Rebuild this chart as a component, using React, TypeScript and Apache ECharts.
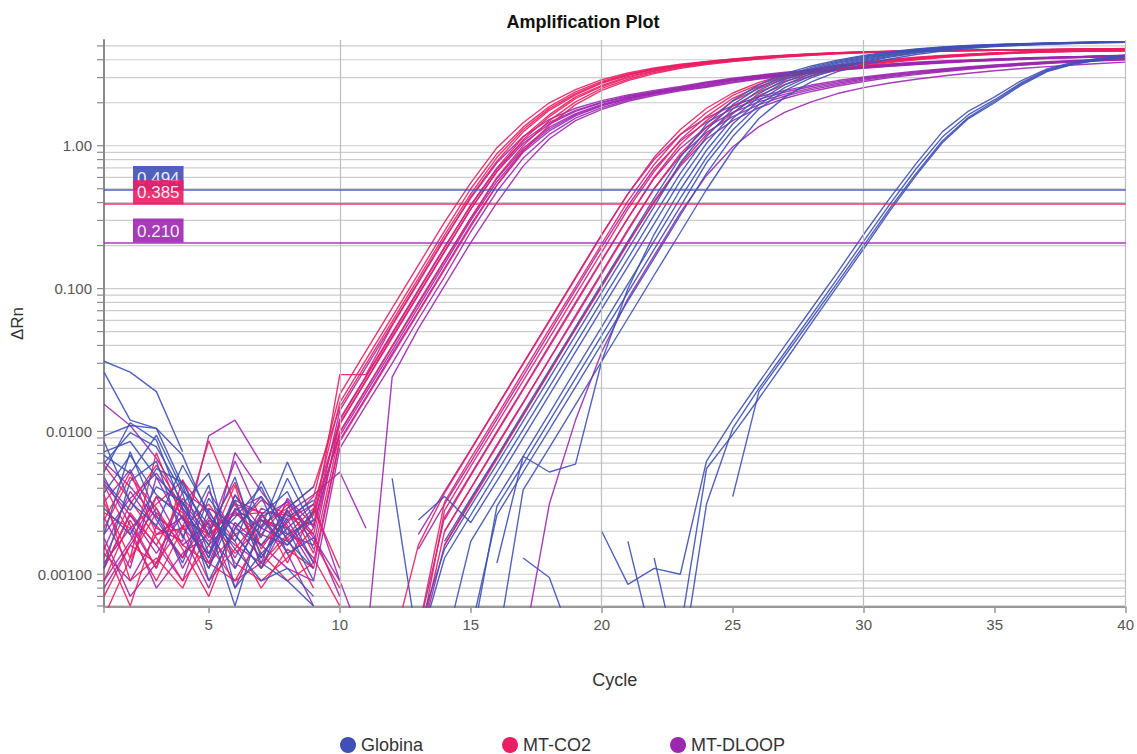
import React, { useEffect, useRef } from 'react';
import * as echarts from 'echarts';

const N = null;
const FONT = "'Liberation Sans', Arial, sans-serif";

const CYCLES = [1, 2, 3, 4, 5, 6, 7, 8, 9, 10, 11, 12, 13, 14, 15, 16, 17, 18, 19, 20,
  21, 22, 23, 24, 25, 26, 27, 28, 29, 30, 31, 32, 33, 34, 35, 36, 37, 38, 39, 40];

const X_GRID = [10, 20, 30, 40];
const Y_GRID = [0.0006, 0.0007, 0.0008, 0.0009,
  0.001, 0.002, 0.003, 0.004, 0.005, 0.006, 0.007, 0.008, 0.009,
  0.01, 0.02, 0.03, 0.04, 0.05, 0.06, 0.07, 0.08, 0.09,
  0.1, 0.2, 0.3, 0.4, 0.5, 0.6, 0.7, 0.8, 0.9,
  1, 2, 3, 4, 5];

const THRESHOLDS = [
  { name: 'Globina', value: 0.494, label: '0.494' },
  { name: 'MT-CO2', value: 0.385, label: '0.385' },
  { name: 'MT-DLOOP', value: 0.21, label: '0.210' },
];

const COLORS: Record<string, string> = {
  'Globina': '#3f51b5',
  'MT-CO2': '#e91e63',
  'MT-DLOOP': '#9c27b0',
};

// ---- MT-CO2 ----
const RE1 = [0.0032, 0.0013, 0.0071, 0.0024, 0.0019, 0.0028, 0.0016, 0.0023, 0.0035, 0.0182,
  0.0365, 0.073, 0.146, 0.292, 0.55, 0.97, 1.45, 2.0, 2.47, 2.9,
  3.23, 3.5, 3.72, 3.9, 4.06, 4.2, 4.31, 4.41, 4.49, 4.55,
  4.59, 4.62, 4.65, 4.67, 4.69, 4.71, 4.73, 4.75, 4.77, 4.79];
const RE2 = [0.0009, 0.0024, 0.0011, 0.0046, 0.0018, 0.0031, 0.0027, 0.0012, 0.0028, 0.0159,
  0.0318, 0.0635, 0.127, 0.254, 0.5, 0.88, 1.35, 1.88, 2.38, 2.82,
  3.17, 3.45, 3.68, 3.87, 4.03, 4.17, 4.29, 4.39, 4.48, 4.54,
  4.58, 4.61, 4.64, 4.66, 4.68, 4.7, 4.72, 4.74, 4.76, 4.78];
const RE3 = [0.0016, 0.0006, 0.0022, 0.0013, 0.0025, 0.0014, 0.0022, 0.0029, 0.0041, 0.0148,
  0.0296, 0.059, 0.118, 0.237, 0.46, 0.83, 1.3, 1.82, 2.32, 2.78,
  3.14, 3.43, 3.66, 3.86, 4.02, 4.16, 4.28, 4.38, 4.47, 4.53,
  4.57, 4.6, 4.63, 4.65, 4.67, 4.69, 4.71, 4.73, 4.75, 4.77];
const RE4 = [0.0011, 0.0027, 0.0016, 0.0034, 0.0021, 0.0026, 0.0027, 0.0026, 0.0022, 0.025,
  0.025, 0.055, 0.11, 0.221, 0.44, 0.78, 1.25, 1.77, 2.27, 2.74,
  3.11, 3.41, 3.64, 3.84, 4.0, 4.15, 4.27, 4.37, 4.46, 4.52,
  4.56, 4.6, 4.63, 4.65, 4.67, 4.69, 4.71, 4.73, 4.75, 4.77];
const RE5 = [0.0058, 0.0033, 0.0018, 0.0009, 0.0016, 0.0042, 0.0011, 0.0018, 0.0026, 0.012,
  0.024, 0.048, 0.096, 0.193, 0.385, 0.7, 1.15, 1.65, 2.2, 2.65,
  3.05, 3.35, 3.6, 3.8, 3.97, 4.12, 4.25, 4.35, 4.45, 4.52,
  4.57, 4.6, 4.62, 4.64, 4.66, 4.68, 4.7, 4.72, 4.74, 4.76];
const RE6 = [0.0021, 0.0048, 0.0029, 0.0015, 0.0007, 0.0021, 0.0033, 0.0026, 0.0019, 0.0112,
  0.0225, 0.045, 0.09, 0.18, 0.36, 0.66, 1.1, 1.6, 2.14, 2.6,
  3.0, 3.32, 3.58, 3.78, 3.95, 4.1, 4.23, 4.34, 4.44, 4.51,
  4.56, 4.59, 4.62, 4.64, 4.66, 4.68, 4.7, 4.72, 4.74, 4.76];
const RE7 = [N, 0.0012, 0.0035, 0.0027, 0.0012, 0.0009, 0.0019, 0.0031, 0.0014, 0.0098,
  0.0195, 0.039, 0.078, 0.156, 0.313, 0.6, 1.0, 1.5, 2.03, 2.52,
  2.92, 3.26, 3.53, 3.74, 3.92, 4.07, 4.21, 4.32, 4.42, 4.5,
  4.55, 4.59, 4.62, 4.64, 4.66, 4.68, 4.7, 4.72, 4.74, 4.76];
const RE8 = [0.0042, 0.0019, 0.0009, 0.0021, 0.0031, 0.0017, 0.0008, 0.0015, 0.0011, 0.0085,
  0.017, 0.034, 0.068, 0.136, 0.272, 0.53, 0.92, 1.4, 1.94, 2.44,
  2.86, 3.2, 3.48, 3.7, 3.88, 4.04, 4.18, 4.3, 4.4, 4.48,
  4.54, 4.58, 4.61, 4.63, 4.65, 4.67, 4.69, 4.71, 4.73, 4.75];
const RL1 = [0.0024, 0.0052, 0.0019, 0.0021, 0.0086, 0.0031, 0.0014, 0.0009, 0.0012, N,
  N, 0.0003, 0.0016, 0.0037, 0.0074, 0.0148, 0.0296, 0.059, 0.118, 0.237,
  0.46, 0.83, 1.3, 1.83, 2.34, 2.78, 3.14, 3.43, 3.66, 3.85,
  4.02, 4.16, 4.28, 4.38, 4.47, 4.53, 4.58, 4.61, 4.64, 4.66];
const RL2 = [0.0005, 0.0013, 0.0027, 0.0016, 0.0012, 0.0019, 0.0024, 0.0021, 0.0013, 0.0006,
  N, N, 0.0004, 0.0032, 0.0065, 0.0129, 0.026, 0.052, 0.103, 0.206,
  0.41, 0.74, 1.2, 1.71, 2.25, 2.69, 3.08, 3.38, 3.62, 3.82,
  3.99, 4.14, 4.26, 4.37, 4.46, 4.52, 4.57, 4.6, 4.63, 4.65];
const RL3 = [0.0036, 0.0009, 0.0013, 0.0008, 0.0021, 0.0044, 0.0015, 0.0028, 0.0017, 0.0008,
  N, N, 0.0003, 0.0028, 0.0057, 0.0113, 0.0226, 0.045, 0.09, 0.18,
  0.36, 0.66, 1.1, 1.6, 2.15, 2.6, 3.01, 3.32, 3.58, 3.78,
  3.95, 4.1, 4.23, 4.34, 4.44, 4.51, 4.56, 4.59, 4.62, 4.64];
const RL4 = [0.0013, 0.0031, 0.0058, 0.0029, 0.0016, 0.0009, 0.0012, 0.0019, 0.0029, 0.0011,
  N, N, N, 0.0024, 0.0049, 0.0098, 0.0195, 0.039, 0.078, 0.156,
  0.313, 0.6, 1.02, 1.5, 2.05, 2.52, 2.94, 3.26, 3.53, 3.74,
  3.92, 4.07, 4.21, 4.32, 4.42, 4.5, 4.55, 4.59, 4.62, 4.64];
const RL5 = [0.0007, 0.0016, 0.0012, 0.0022, 0.0009, 0.0015, 0.0026, 0.0018, 0.0008, N,
  N, N, 0.0003, 0.002, 0.004, 0.0079, 0.0158, 0.032, 0.063, 0.127,
  0.254, 0.5, 0.88, 1.35, 1.89, 2.38, 2.83, 3.17, 3.45, 3.68,
  3.87, 4.03, 4.17, 4.29, 4.39, 4.48, 4.54, 4.58, 4.61, 4.63];
const RL6 = [0.0027, 0.0021, 0.0031, 0.0045, 0.0026, 0.0012, 0.0009, 0.0013, 0.0021, N,
  N, N, N, 0.0016, 0.0032, 0.0064, 0.0129, 0.026, 0.052, 0.103,
  0.206, 0.41, 0.74, 1.2, 1.71, 2.25, 2.69, 3.08, 3.38, 3.62,
  3.82, 3.99, 4.14, 4.26, 4.37, 4.46, 4.52, 4.57, 4.6, 4.62];

// ---- MT-DLOOP ----
const PE1 = [0.0015, 0.0038, 0.0021, 0.0017, 0.0093, 0.012, 0.006, N, 0.0021, 0.014,
  0.028, 0.056, 0.112, 0.225, 0.43, 0.76, 1.16, 1.53, 1.83, 2.07,
  2.27, 2.44, 2.6, 2.8, 2.97, 3.12, 3.27, 3.4, 3.52, 3.64,
  3.74, 3.84, 3.92, 3.98, 4.05, 4.11, 4.16, 4.21, 4.26, 4.31];
const PE2 = [0.0155, 0.011, 0.0065, 0.0032, 0.0019, 0.0062, 0.0024, 0.0019, 0.0016, 0.0122,
  0.0244, 0.049, 0.098, 0.196, 0.38, 0.69, 1.08, 1.46, 1.77, 2.02,
  2.23, 2.4, 2.56, 2.76, 2.94, 3.09, 3.23, 3.37, 3.49, 3.6,
  3.71, 3.81, 3.89, 3.96, 4.03, 4.09, 4.14, 4.19, 4.24, 4.29];
const PE3 = [0.0025, 0.0011, 0.0048, 0.0021, 0.0014, 0.0028, 0.0035, 0.0021, 0.0031, 0.0114,
  0.0228, 0.046, 0.091, 0.183, 0.36, 0.66, 1.04, 1.42, 1.74, 2.0,
  2.21, 2.38, 2.54, 2.74, 2.92, 3.07, 3.21, 3.35, 3.47, 3.59,
  3.7, 3.8, 3.88, 3.95, 4.02, 4.08, 4.13, 4.19, 4.24, 4.29];
const PE4 = [0.0008, 0.0016, 0.0029, 0.0011, 0.0024, 0.0016, 0.0012, 0.0034, 0.0022, 0.00995,
  0.0199, 0.0398, 0.08, 0.159, 0.31, 0.59, 0.96, 1.35, 1.68, 1.95,
  2.17, 2.35, 2.51, 2.71, 2.89, 3.04, 3.19, 3.33, 3.45, 3.57,
  3.68, 3.78, 3.87, 3.94, 4.01, 4.08, 4.13, 4.18, 4.23, 4.28];
const PE5 = [0.0043, 0.0026, 0.0014, 0.0026, 0.0011, 0.0036, 0.0021, 0.0017, 0.0027, 0.0093,
  0.0186, 0.037, 0.074, 0.149, 0.3, 0.56, 0.93, 1.31, 1.65, 1.92,
  2.15, 2.33, 2.49, 2.67, 2.87, 3.02, 3.17, 3.31, 3.44, 3.56,
  3.67, 3.77, 3.86, 3.93, 4.0, 4.07, 4.12, 4.17, 4.22, 4.27];
const PE6 = [0.0018, 0.0007, 0.0012, 0.0038, 0.0028, 0.0013, 0.0029, 0.0024, 0.0012, 0.0087,
  0.0174, 0.035, 0.069, 0.139, 0.28, 0.53, 0.9, 1.27, 1.62, 1.9,
  2.13, 2.32, 2.48, 2.64, 2.85, 3.0, 3.15, 3.29, 3.42, 3.54,
  3.65, 3.75, 3.84, 3.92, 3.99, 4.06, 4.11, 4.16, 4.21, 4.26];
const PE7 = [0.0061, 0.0041, 0.0025, 0.0019, 0.0008, 0.0023, 0.0016, 0.0011, 0.0009, 0.0076,
  0.0152, 0.03, 0.061, 0.121, 0.25, 0.48, 0.82, 1.2, 1.56, 1.85,
  2.09, 2.29, 2.45, 2.6, 2.8, 2.96, 3.11, 3.25, 3.39, 3.51,
  3.62, 3.72, 3.82, 3.9, 3.97, 4.04, 4.1, 4.15, 4.2, 4.25];
const PE8 = [0.0012, 0.0021, 0.0008, 0.0014, 0.0019, 0.0011, 0.0025, 0.0032, 0.0018, 0.0009,
  0.0003, 0.024, 0.0525, 0.105, 0.21, 0.4, 0.72, 1.12, 1.5, 1.8,
  2.05, 2.25, 2.42, 2.57, 2.76, 2.93, 3.08, 3.23, 3.37, 3.49,
  3.6, 3.7, 3.8, 3.88, 3.95, 4.02, 4.08, 4.13, 4.18, 4.23];
const PL1 = [0.0019, 0.0034, 0.0051, 0.0028, 0.0013, 0.0071, 0.0038, 0.0022, 0.0011, N,
  N, N, 0.0019, 0.0038, 0.0075, 0.015, 0.03, 0.06, 0.12, 0.24,
  0.46, 0.8, 1.2, 1.57, 1.91, 2.2, 2.44, 2.66, 2.86, 3.03,
  3.18, 3.33, 3.45, 3.57, 3.68, 3.78, 3.87, 3.95, 4.01, 4.08];
const PL2 = [0.0011, 0.0026, 0.0016, 0.0009, 0.0029, 0.0022, 0.0013, 0.0027, 0.0036, 0.0052,
  0.0021, N, 0.0015, 0.0031, 0.0061, 0.0122, 0.0244, 0.049, 0.098, 0.196,
  0.38, 0.69, 1.08, 1.46, 1.82, 2.12, 2.38, 2.6, 2.8, 2.98,
  3.14, 3.28, 3.42, 3.54, 3.65, 3.75, 3.84, 3.92, 3.99, 4.06];
const PL3 = [0.0048, 0.0022, 0.0011, 0.0031, 0.0017, 0.0027, 0.0019, 0.0016, 0.0024, N,
  N, N, 0.0004, 0.0025, 0.005, 0.01, 0.0199, 0.04, 0.08, 0.159,
  0.31, 0.59, 0.96, 1.35, 1.71, 2.03, 2.3, 2.53, 2.74, 2.93,
  3.09, 3.24, 3.38, 3.5, 3.62, 3.72, 3.81, 3.9, 3.97, 4.04];
const PL4 = [0.0009, 0.0017, 0.0035, 0.0016, 0.0023, 0.0008, 0.0021, 0.0033, 0.0019, 0.0007,
  N, N, N, 0.002, 0.004, 0.0081, 0.016, 0.032, 0.065, 0.13,
  0.26, 0.5, 0.85, 1.24, 1.6, 1.94, 2.23, 2.47, 2.68, 2.88,
  3.05, 3.2, 3.34, 3.47, 3.59, 3.69, 3.79, 3.88, 3.95, 4.02];
const PL5 = [0.0032, 0.0054, 0.0024, 0.0013, 0.0038, 0.0019, 0.0011, 0.0024, 0.0031, 0.0009,
  N, N, 0.0003, 0.0016, 0.0033, 0.0066, 0.013, 0.026, 0.0525, 0.105,
  0.21, 0.4, 0.72, 1.12, 1.5, 1.85, 2.15, 2.4, 2.62, 2.82,
  3.0, 3.15, 3.3, 3.43, 3.55, 3.66, 3.76, 3.85, 3.93, 4.0];
const PL6 = [0.0014, 0.0009, 0.0019, 0.0025, 0.0012, 0.0033, 0.0027, 0.0014, 0.0006, N,
  N, N, N, N, N, N, 0.0003, 0.0031, 0.012, 0.036,
  0.085, 0.17, 0.34, 0.62, 0.98, 1.36, 1.72, 2.03, 2.32, 2.55,
  2.75, 2.92, 3.08, 3.22, 3.35, 3.47, 3.58, 3.68, 3.77, 3.85];

// ---- Globina ----
const BM1 = [0.031, 0.026, 0.019, 0.0072, N, 0.0021, 0.0016, 0.0028, 0.0012, N,
  N, N, N, 0.0017, 0.0034, 0.0067, 0.0135, 0.027, 0.054, 0.108,
  0.215, 0.43, 0.83, 1.42, 2.07, 2.68, 3.2, 3.62, 3.98, 4.29,
  4.56, 4.76, 4.92, 5.03, 5.11, 5.19, 5.24, 5.29, 5.32, 5.35];
const BM2 = [0.026, 0.012, 0.0105, 0.0042, 0.0014, 0.0033, 0.0012, 0.0009, 0.0006, N,
  N, N, 0.0004, 0.0015, 0.003, 0.0059, 0.0118, 0.0235, 0.047, 0.094,
  0.188, 0.375, 0.76, 1.29, 1.94, 2.56, 3.1, 3.54, 3.91, 4.23,
  4.5, 4.72, 4.89, 5.01, 5.1, 5.17, 5.23, 5.28, 5.31, 5.34];
const BM3 = [0.0093, 0.011, 0.0105, 0.0068, 0.0025, 0.0017, 0.0045, 0.0019, 0.0024, N,
  N, 0.0047, 0.0003, 0.0013, 0.0026, 0.0052, 0.0103, 0.0205, 0.041, 0.082,
  0.163, 0.327, 0.64, 1.16, 1.81, 2.44, 3.0, 3.46, 3.84, 4.17,
  4.45, 4.68, 4.86, 4.99, 5.08, 5.16, 5.22, 5.27, 5.3, 5.33];
const BM4 = [0.0072, 0.0085, 0.0048, 0.0031, 0.0051, 0.0011, 0.0026, 0.0038, 0.0015, N,
  N, N, 0.0024, 0.0035, 0.0023, 0.0045, 0.009, 0.018, 0.036, 0.072,
  0.143, 0.284, 0.57, 1.04, 1.68, 2.32, 2.9, 3.38, 3.77, 4.11,
  4.4, 4.64, 4.83, 4.97, 5.07, 5.15, 5.21, 5.26, 5.3, 5.33];
const BM5 = [0.0037, 0.0068, 0.0036, 0.0025, 0.0011, 0.0029, 0.0021, 0.0061, 0.0024, N,
  N, N, N, N, N, 0.0012, 0.0067, 0.0052, 0.0059, 0.031,
  0.1, 0.24, 0.494, 0.93, 1.55, 2.2, 2.8, 3.3, 3.7, 4.05,
  4.35, 4.6, 4.8, 4.95, 5.05, 5.13, 5.2, 5.25, 5.3, 5.33];
const BM6 = [0.0011, 0.0045, 0.0062, 0.0018, 0.0042, 0.0008, 0.0014, 0.0021, 0.0009, N,
  N, N, N, 0.0003, 0.0017, 0.0034, 0.0067, 0.0134, 0.027, 0.054,
  0.108, 0.215, 0.43, 0.83, 1.42, 2.07, 2.68, 3.2, 3.62, 3.98,
  4.29, 4.56, 4.76, 4.92, 5.03, 5.11, 5.19, 5.24, 5.29, 5.32];
const BM7 = [0.006, 0.0098, 0.0078, 0.0037, 0.0009, 0.0021, 0.0035, 0.0014, 0.0018, N,
  N, N, N, N, 0.0003, 0.003, 0.0059, 0.0118, 0.0235, 0.047,
  0.094, 0.188, 0.375, 0.76, 1.29, 1.94, 2.56, 3.1, 3.54, 3.91,
  4.23, 4.5, 4.72, 4.89, 5.01, 5.1, 5.17, 5.23, 5.28, 5.31];
const BM8 = [0.0045, 0.0028, 0.0055, 0.0044, 0.0019, 0.0048, 0.0013, 0.0025, 0.0033, N,
  N, N, N, N, 0.0004, 0.0026, 0.0052, 0.0103, 0.0205, 0.041,
  0.082, 0.163, 0.327, 0.64, 1.16, 1.81, 2.44, 3.0, 3.46, 3.84,
  4.17, 4.45, 4.68, 4.86, 4.99, 5.08, 5.16, 5.22, 5.27, 5.3];
const BM9 = [0.0085, 0.0032, 0.0022, 0.0058, 0.0027, 0.0015, 0.0009, 0.0011, 0.0007, N,
  N, N, N, N, N, 0.0003, 0.0039, 0.0077, 0.0154, 0.031,
  0.062, 0.124, 0.247, 0.494, 0.93, 1.55, 2.2, 2.8, 3.3, 3.7,
  4.05, 4.35, 4.6, 4.8, 4.95, 5.05, 5.13, 5.2, 5.25, 5.3];
const BL1 = [0.0052, 0.0115, 0.0087, 0.0029, 0.0016, 0.0025, 0.0041, 0.0017, 0.0011, N,
  N, N, N, N, N, N, N, N, N, 0.002,
  0.00085, 0.0011, 0.001, 0.0062, 0.012, 0.022, 0.04, 0.072, 0.13, 0.24,
  0.43, 0.75, 1.25, 1.75, 2.2, 2.85, 3.45, 3.85, 4.1, 4.3];
const BL2 = [0.0029, 0.0019, 0.0041, 0.0032, 0.0013, 0.0036, 0.0018, 0.0047, 0.0021, N,
  N, N, N, N, N, N, N, N, N, N,
  0.0017, 0.0003, 0.0002, 0.0031, 0.0105, 0.02, 0.036, 0.065, 0.118, 0.215,
  0.39, 0.69, 1.15, 1.65, 2.1, 2.75, 3.4, 3.8, 4.05, 4.25];
const BL3 = [0.0068, 0.0051, 0.0094, 0.0039, 0.0022, 0.0006, 0.0024, 0.0016, 0.0028, N,
  N, N, N, N, N, N, N, N, N, N,
  N, 0.0013, 0.0002, N, 0.0035, 0.019, 0.034, 0.061, 0.11, 0.2,
  0.365, 0.64, 1.08, 1.58, 2.05, 2.7, 3.35, 3.75, 4.0, 4.2];
const BL4 = [0.0019, 0.0072, 0.0026, 0.0012, 0.0034, 0.0019, 0.0011, 0.0029, 0.0041, N,
  N, N, N, N, N, N, 0.0013, 0.00095, 0.0003, N,
  N, N, 0.0004, 0.0055, 0.0095, 0.017, 0.031, 0.057, 0.104, 0.19,
  0.35, 0.62, 1.05, 1.55, 2.0, 2.65, 3.3, 3.72, 3.98, 4.18];

const GROUPS: { name: string; curves: (number | null)[][] }[] = [
  { name: 'MT-DLOOP', curves: [PE1, PE2, PE3, PE4, PE5, PE6, PE7, PE8, PL1, PL2, PL3, PL4, PL5, PL6] },
  { name: 'MT-CO2', curves: [RE1, RE2, RE3, RE4, RE5, RE6, RE7, RE8, RL1, RL2, RL3, RL4, RL5, RL6] },
  { name: 'Globina', curves: [BM1, BM2, BM3, BM4, BM5, BM6, BM7, BM8, BM9, BL1, BL2, BL3, BL4] },
];

function buildOption() {
  const curveSeries: any[] = [];
  GROUPS.forEach((g) => {
    g.curves.forEach((arr) => {
      curveSeries.push({
        type: 'line',
        name: g.name,
        data: CYCLES.map((c, i) => [c, arr[i] == null ? '-' : arr[i]]),
        showSymbol: false,
        symbol: 'none',
        clip: true,
        z: 2,
        lineStyle: { color: COLORS[g.name], width: 1.4, opacity: 0.9 },
        itemStyle: { color: COLORS[g.name] },
        emphasis: { disabled: true },
        silent: true,
      });
    });
  });

  const gridSeries = {
    type: 'custom',
    name: 'hgrid',
    silent: true,
    z: 0,
    encode: { x: 0, y: 1 },
    data: Y_GRID.map((v) => [1, v]),
    renderItem: (params: any, api: any) => {
      const v = api.value(1);
      const a = api.coord([1, v]);
      const b = api.coord([40, v]);
      return {
        type: 'group',
        children: [
          { type: 'line', shape: { x1: a[0], y1: a[1], x2: b[0], y2: b[1] }, style: { stroke: '#cdcdcd', lineWidth: 1.2 } },
          { type: 'line', shape: { x1: a[0] - 7, y1: a[1], x2: a[0], y2: a[1] }, style: { stroke: '#8a8a8a', lineWidth: 1.2 } },
        ],
      };
    },
  };

  const vGridSeries = {
    type: 'line',
    name: 'vgrid',
    data: [],
    silent: true,
    z: 1,
    markLine: {
      silent: true,
      symbol: ['none', 'none'],
      animation: false,
      label: { show: false },
      lineStyle: { color: '#bdbdbd', width: 1.2, type: 'solid' },
      data: X_GRID.map((x) => ({ xAxis: x })),
    },
  };

  const thresholdSeries = {
    type: 'line',
    name: 'thresholds',
    data: [],
    silent: true,
    z: 5,
    markLine: {
      silent: true,
      symbol: ['none', 'none'],
      animation: false,
      data: THRESHOLDS.map((t) => ({
        yAxis: t.value,
        lineStyle: { color: COLORS[t.name], width: 1.5, type: 'solid', opacity: 0.9 },
        label: {
          show: true,
          position: 'insideStartTop',
          distance: [29, 0],
          formatter: t.label,
          color: '#ffffff',
          backgroundColor: COLORS[t.name],
          padding: [4, 4, 3, 4],
          fontSize: 17,
          fontFamily: FONT,
        },
      })),
    },
  };

  return {
    animation: false,
    backgroundColor: '#ffffff',
    title: {
      text: 'Amplification Plot',
      left: 578,
      top: 8,
      textAlign: 'center',
      textStyle: { fontFamily: FONT, fontWeight: 'bold', fontSize: 18, color: '#111' },
    },
    legend: {
      data: ['Globina', 'MT-CO2', 'MT-DLOOP'],
      left: 335,
      top: 731,
      icon: 'circle',
      itemWidth: 16,
      itemHeight: 16,
      itemGap: 79,
      textStyle: { fontFamily: FONT, fontSize: 18, color: '#333' },
      selectedMode: false,
    },
    grid: { left: 104, right: 11, top: 40, bottom: 147 },
    xAxis: {
      type: 'value',
      min: 1,
      max: 40,
      splitNumber: 8,
      name: 'Cycle',
      nameLocation: 'middle',
      nameGap: 64,
      nameTextStyle: { fontFamily: FONT, fontSize: 18, color: '#333' },
      axisLine: { show: true, lineStyle: { color: '#999', width: 2 } },
      axisTick: { show: true, length: 6, lineStyle: { color: '#999', width: 1.5 } },
      axisLabel: {
        fontFamily: FONT,
        fontSize: 15,
        color: '#555',
        margin: 10,
        formatter: (v: number) => (v === 1 ? '' : String(v)),
      },
      splitLine: { show: false },
    },
    yAxis: {
      type: 'log',
      logBase: 10,
      min: 0.00059,
      max: 5.5,
      name: 'ΔRn',
      nameLocation: 'middle',
      nameGap: 78,
      nameRotate: 90,
      nameTextStyle: { fontFamily: FONT, fontSize: 17, color: '#333' },
      axisLine: { show: true, lineStyle: { color: '#8a8a8a', width: 2 } },
      axisTick: { show: false },
      axisLabel: {
        fontFamily: FONT,
        fontSize: 15,
        color: '#555',
        margin: 12,
        formatter: (v: number) => {
          const l = Math.log10(v);
          if (Math.abs(l - Math.round(l)) > 1e-6) return '';
          return v.toPrecision(3);
        },
      },
      splitLine: { show: false },
    },
    series: [gridSeries, vGridSeries, ...curveSeries, thresholdSeries],
  };
}

export default function App() {
  const ref = useRef<HTMLDivElement>(null);
  useEffect(() => {
    if (!ref.current) return;
    const chart = echarts.init(ref.current, null, { renderer: 'svg' });
    chart.setOption(buildOption() as any);
    return () => chart.dispose();
  }, []);
  return (
    <div
      ref={ref}
      style={{ position: 'absolute', left: 0, top: 0, width: 1137, height: 754, background: '#fff' }}
    />
  );
}
